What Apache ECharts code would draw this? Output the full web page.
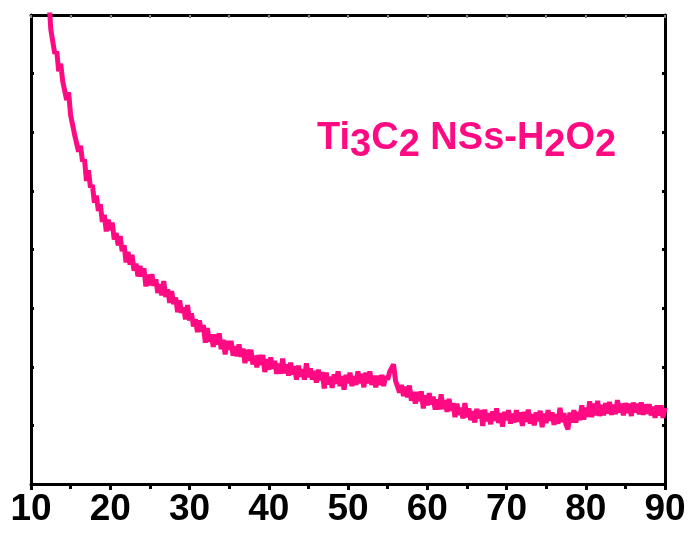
<!DOCTYPE html>
<html>
<head>
<meta charset="utf-8">
<script src="https://cdn.jsdelivr.net/npm/echarts@6/dist/echarts.min.js"></script>
<style>
  html, body { margin: 0; padding: 0; background: #fff; }
  #chart { width: 692px; height: 535px; }
</style>
</head>
<body>
<div id="chart"></div>
<script>
// XRD scan, 2theta from 12.25 to 90 deg, one reading every 0.25 deg
const scanStart = 12.25;
const scanStep = 0.25;
const xTicks = [10, 20, 30, 40, 50, 60, 70, 80, 90];
const intensity = [
  8.29, 7.75, 7.75, 7.34, 7.38, 7.04, 7.17, 6.87, 6.87, 6.55, 6.68, 6.29, 6.29, 5.96, 5.99, 5.67, 5.77, 5.50, 5.54, 5.17,
  5.35, 5.06, 5.10, 4.80, 4.92, 4.66, 4.77, 4.47, 4.59, 4.31, 4.51, 4.33, 4.46, 4.17, 4.28, 4.07, 4.23, 3.97, 4.07, 3.78,
  3.96, 3.74, 3.91, 3.64, 3.76, 3.54, 3.72, 3.54, 3.68, 3.37, 3.57, 3.39, 3.58, 3.38, 3.49, 3.26, 3.41, 3.22, 3.46, 3.19,
  3.32, 3.09, 3.29, 3.07, 3.18, 2.93, 3.13, 2.92, 3.01, 2.81, 3.05, 2.79, 2.91, 2.69, 2.81, 2.59, 2.79, 2.60, 2.71, 2.41,
  2.66, 2.43, 2.55, 2.34, 2.55, 2.38, 2.57, 2.30, 2.46, 2.21, 2.44, 2.29, 2.44, 2.19, 2.35, 2.18, 2.38, 2.17, 2.31, 2.06,
  2.29, 2.10, 2.29, 2.04, 2.19, 1.99, 2.20, 2.03, 2.20, 1.91, 2.13, 1.95, 2.16, 1.97, 2.10, 1.88, 2.05, 1.88, 2.14, 1.89,
  2.04, 1.85, 2.07, 1.87, 2.01, 1.78, 2.02, 1.83, 1.96, 1.78, 2.06, 1.82, 1.97, 1.78, 1.93, 1.73, 1.95, 1.77, 1.91, 1.63,
  1.90, 1.70, 1.83, 1.64, 1.87, 1.71, 1.92, 1.67, 1.84, 1.61, 1.86, 1.72, 1.90, 1.67, 1.84, 1.69, 1.92, 1.72, 1.88, 1.65,
  1.90, 1.72, 1.92, 1.69, 1.85, 1.65, 1.85, 1.69, 1.86, 1.67, 1.84, 1.78, 1.91, 1.88, 2.04, 1.76, 1.79, 1.56, 1.69, 1.50,
  1.66, 1.48, 1.68, 1.42, 1.57, 1.37, 1.57, 1.41, 1.58, 1.29, 1.51, 1.34, 1.55, 1.36, 1.49, 1.27, 1.44, 1.27, 1.53, 1.28,
  1.43, 1.23, 1.45, 1.25, 1.38, 1.14, 1.37, 1.18, 1.30, 1.12, 1.38, 1.14, 1.29, 1.09, 1.24, 1.05, 1.28, 1.12, 1.26, 0.99,
  1.27, 1.07, 1.21, 1.02, 1.24, 1.08, 1.29, 1.04, 1.21, 0.98, 1.23, 1.09, 1.26, 1.03, 1.20, 1.05, 1.26, 1.06, 1.22, 0.99,
  1.23, 1.06, 1.27, 1.03, 1.19, 1.00, 1.22, 1.07, 1.25, 0.97, 1.20, 1.04, 1.26, 1.08, 1.22, 1.01, 1.19, 1.03, 1.30, 1.06,
  1.21, 1.02, 0.93, 1.22, 1.05, 1.26, 1.05, 1.23, 1.09, 1.34, 1.10, 1.30, 1.15, 1.41, 1.14, 1.37, 1.17, 1.42, 1.16, 1.35,
  1.17, 1.38, 1.20, 1.40, 1.18, 1.35, 1.19, 1.43, 1.22, 1.37, 1.17, 1.38, 1.21, 1.37, 1.16, 1.39, 1.22, 1.37, 1.19, 1.39,
  1.18, 1.36, 1.20, 1.36, 1.17, 1.32, 1.13, 1.34, 1.17, 1.34, 1.13, 1.30
];

let pink = "#ff0a82"
let points = intensity.map(function (v, i) {
    return [scanStart + i * scanStep, v]
})

let chart = echarts.init(document.getElementById("chart"), null, {renderer: "canvas"})

let axisLine = {show: true, onZero: false, lineStyle: {color: "#000", width: 3}}

let option = {
    animation: false,
    backgroundColor: "#fff",
    title: {
        left: 312,
        top: 107,
        text: "Ti{s|3}C{s|2} NSs-H{s|2}O{s|2}",
        textStyle: {
            color: pink,
            fontFamily: "Liberation Sans, Arial, sans-serif",
            fontWeight: "bold",
            fontSize: 38,
            rich: {
                s: {
                    color: pink,
                    fontFamily: "Liberation Sans, Arial, sans-serif",
                    fontWeight: "bold",
                    fontSize: 38,
                    padding: [15, 0, 0, 0]
                }
            }
        }
    },
    grid: {left: 31, right: 27, top: 15, bottom: 51, containLabel: false},
    xAxis: [{
        type: "value",
        min: 10,
        max: 90,
        interval: 10,
        position: "bottom",
        axisLine: axisLine,
        axisTick: {show: true, inside: false, length: 6, lineStyle: {width: 3, color: "#000"}},
        minorTick: {show: true, splitNumber: 2, length: 5, lineStyle: {width: 3, color: "#000"}},
        splitLine: {show: false},
        axisLabel: {
            color: "#000",
            fontFamily: "Liberation Sans, Arial, sans-serif",
            fontWeight: "bold",
            fontSize: 37,
            margin: 7,
            customValues: xTicks
        }
    }, {
        type: "value",
        min: 10,
        max: 90,
        interval: 10,
        position: "top",
        axisLine: axisLine,
        axisTick: {show: true, inside: true, length: 3, lineStyle: {width: 2, color: "#888"}},
        minorTick: {show: true, splitNumber: 2, length: 3, lineStyle: {width: 2, color: "#888"}},
        splitLine: {show: false},
        axisLabel: {show: false}
    }],
    yAxis: [{
        type: "value",
        min: 0,
        max: 8,
        interval: 1,
        position: "left",
        axisLine: axisLine,
        axisTick: {show: true, inside: true, length: 3, lineStyle: {width: 3, color: "#000"}},
        splitLine: {show: false},
        axisLabel: {show: false}
    }, {
        type: "value",
        min: 0,
        max: 8,
        interval: 1,
        position: "right",
        axisLine: axisLine,
        axisTick: {show: true, inside: true, length: 3, lineStyle: {width: 3, color: "#000"}},
        splitLine: {show: false},
        axisLabel: {show: false}
    }],
    series: [{
        name: "Ti3C2 NSs-H2O2",
        type: "line",
        xAxisIndex: 0,
        yAxisIndex: 0,
        data: points,
        showSymbol: false,
        clip: true,
        sampling: null,
        lineStyle: {color: pink, width: 5},
        z: 1
    }]
}

chart.setOption(option)
</script>
</body>
</html>
